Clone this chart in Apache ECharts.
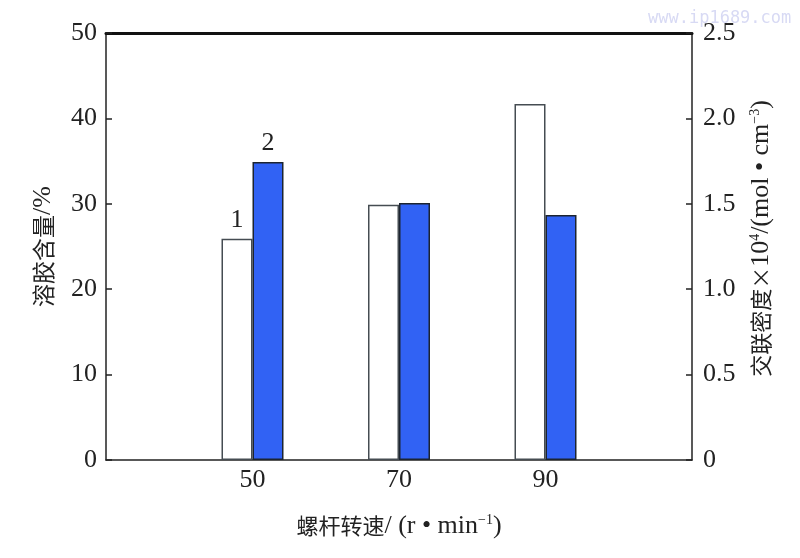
<!DOCTYPE html>
<html><head><meta charset="utf-8">
<script src="https://cdn.jsdelivr.net/npm/echarts@6/dist/echarts.min.js"></script>
<style>html,body{margin:0;padding:0;background:#fff}#c{width:800px;height:558px}</style>
</head><body><div id="c"></div>
<script>
const categories = ['50', '70', '90'];
const solContent = [25.9, 29.9, 41.7];          // left axis, %
const crosslinkDensity = [1.745, 1.505, 1.435]; // right axis, x10^4 mol/cm^3
const seriesNames = ['1', '2'];
const leftTicks = [0, 10, 20, 30, 40, 50];
const rightTicks = [0, 0.5, 1.0, 1.5, 2.0, 2.5];

const FONT = "'Liberation Serif','Noto Sans CJK SC',serif";
const CJK = "'Noto Sans CJK SC',sans-serif";
const axisData = [''].concat(categories, ['']);
const pad = arr => ['-'].concat(arr, ['-']);
const withLabel = (arr) => pad(arr).map((v, i) => i === 1 ? {value: v, label: {show: true}} : v);
const rich = {
  cn: {fontFamily: CJK, fontSize: 22, color: '#222'},
  cnx: {fontFamily: CJK, fontSize: 22, color: '#222'},
  sup: {fontFamily: FONT, fontSize: 14, color: '#222', padding: [0, 0, 12, 0]}
};

const chart = echarts.init(document.getElementById('c'));
chart.setOption({
  animation: false,
  backgroundColor: '#fff',
  grid: {left: 106, right: 108, top: 33, bottom: 98},
  graphic: [{type: 'text', left: 648, top: 10, style: {text: 'www.ip1689.com', fill: '#d8daf4', font: "17px 'DejaVu Sans Mono', monospace"}}],
  xAxis: [{
    type: 'category', data: axisData, boundaryGap: false,
    axisLine: {onZero: false, lineStyle: {color: '#222', width: 1.5}},
    axisTick: {show: false},
    axisLabel: {color: '#222', fontFamily: FONT, fontSize: 26, margin: 7},
    splitLine: {show: false},
    name: '{cn|螺杆转速}/ (r • min{sup|−1})',
    nameLocation: 'middle', nameGap: 53,
    nameTextStyle: {color: '#222', fontFamily: FONT, fontSize: 26, rich: rich}
  }, {
    type: 'category', data: axisData, boundaryGap: false, position: 'top',
    axisLine: {onZero: false, lineStyle: {color: '#111', width: 3}},
    axisTick: {show: false}, axisLabel: {show: false}, splitLine: {show: false}
  }],
  yAxis: [{
    type: 'value', min: leftTicks[0], max: leftTicks[leftTicks.length - 1], interval: leftTicks[1] - leftTicks[0],
    position: 'left',
    axisLine: {show: true, onZero: false, lineStyle: {color: '#222', width: 1.5}},
    axisTick: {show: true, inside: true, length: 6, lineStyle: {color: '#222', width: 1.5}},
    axisLabel: {color: '#222', fontFamily: FONT, fontSize: 26, margin: 9},
    splitLine: {show: false},
    name: '{cn|溶胶含量}/%', nameLocation: 'middle', nameGap: 50, nameRotate: 90,
    nameTextStyle: {color: '#222', fontFamily: FONT, fontSize: 26, rich: {cn: {fontFamily: CJK, fontSize: 23, color: '#222'}}}
  }, {
    type: 'value', min: rightTicks[0], max: rightTicks[rightTicks.length - 1], interval: rightTicks[1] - rightTicks[0],
    position: 'right',
    axisLine: {show: true, onZero: false, lineStyle: {color: '#222', width: 1.5}},
    axisTick: {show: true, inside: true, length: 6, lineStyle: {color: '#222', width: 1.5}},
    axisLabel: {color: '#222', fontFamily: FONT, fontSize: 26, margin: 11, formatter: v => v === 0 ? '0' : v.toFixed(1)},
    splitLine: {show: false},
    name: '{cn|交联密度}{cnx|×}10{sup|4}/(mol • cm{sup|−3})', nameLocation: 'middle', nameGap: 56, nameRotate: 90,
    nameTextStyle: {color: '#222', fontFamily: FONT, fontSize: 26, rich: rich, padding: [0, 0, 0, 16]}
  }],
  series: [{
    name: seriesNames[0], type: 'bar', yAxisIndex: 0, barWidth: 31, barGap: '0%',
    data: withLabel(solContent),
    itemStyle: {color: '#fff', borderColor: '#454c52', borderWidth: 1.5},
    label: {show: false, position: 'top', distance: 6, formatter: seriesNames[0], color: '#222', fontFamily: FONT, fontSize: 26}
  }, {
    name: seriesNames[1], type: 'bar', yAxisIndex: 1, barWidth: 31, barGap: '0%',
    data: withLabel(crosslinkDensity),
    itemStyle: {color: '#3162f4', borderColor: '#1c2430', borderWidth: 1.5},
    label: {show: false, position: 'top', distance: 6, formatter: seriesNames[1], color: '#222', fontFamily: FONT, fontSize: 26}
  }]
});
</script></body></html>
